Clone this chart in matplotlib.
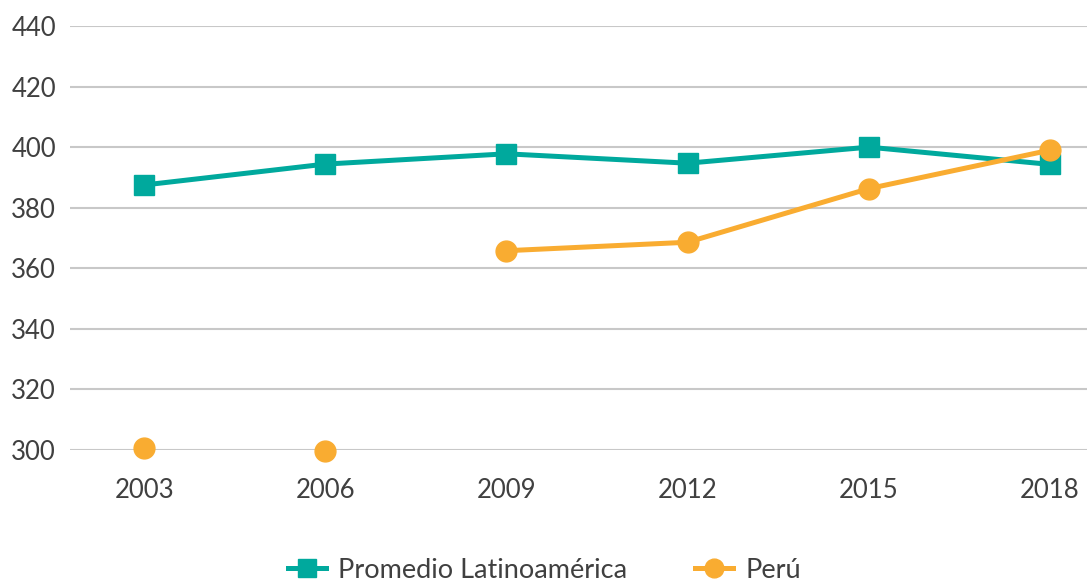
import numpy as np
import matplotlib
matplotlib.use("Agg")
import matplotlib.pyplot as plt

years = [2003, 2006, 2009, 2012, 2015, 2018]
promedio = [387.5, 394.4, 397.8, 394.7, 400.0, 394.3]
peru_sueltos = [300.6, 299.6]          # 2003, 2006 (sin conectar)
peru = [np.nan, np.nan, 365.8, 368.6, 386.3, 399.0]
yticks = [300, 320, 340, 360, 380, 400, 420, 440]

teal = "#00A99D"
orange = "#F9AC31"
txt = "#404040"

plt.rcParams['font.family'] = ['Lato', 'DejaVu Sans']

fig = plt.figure(figsize=(10.87, 5.81), dpi=100)
ax = fig.add_axes([70/1087, 131/581, 1 - 70/1087, 424/581])

ax.plot(years, promedio, color=teal, lw=3.6, marker="s", ms=15,
        label="Promedio Latinoamérica", clip_on=False, zorder=3)
ax.plot(years, peru, color=orange, lw=3.6, marker="o", ms=15,
        label="Perú", clip_on=False, zorder=4)
ax.plot(years[:2], peru_sueltos, color=orange, lw=0, marker="o", ms=15,
        clip_on=False, zorder=4)

ax.set_ylim(300, 440)
ax.set_xlim(2003 - 74/181*3, 2018 + 37/181*3)
ax.set_yticks(yticks)
ax.set_xticks(years)
ax.grid(axis="y", color="#c8c8c8", lw=1.5)
ax.set_axisbelow(True)
for s in ax.spines.values():
    s.set_visible(False)
ax.tick_params(length=0, labelsize=18.5, colors=txt)
ax.tick_params(axis="x", pad=20)
ax.tick_params(axis="y", pad=10)

ax.legend(loc="lower center", bbox_to_anchor=(0.5 - 34/1017, -0.37), ncol=2,
          frameon=False, fontsize=19.5, labelcolor=txt, handlelength=1.4,
          columnspacing=2.5, handletextpad=0.45, markerscale=0.9)

fig.savefig("out.png", dpi=100)
